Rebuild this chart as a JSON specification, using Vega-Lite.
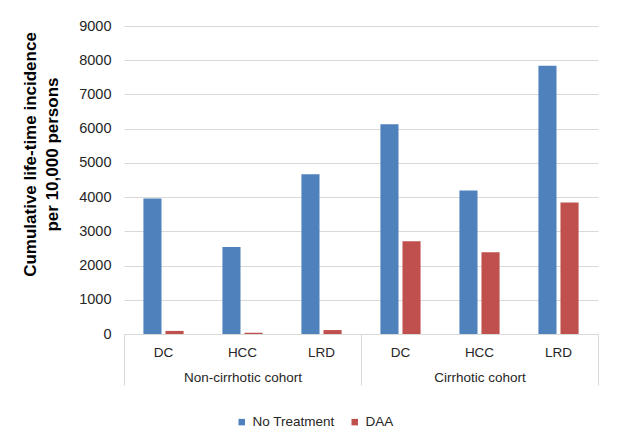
{
  "$schema": "https://vega.github.io/schema/vega-lite/v6.json",
  "width": 474,
  "height": 308,
  "autosize": {"type": "none"},
  "padding": {"left": 124, "top": 26, "right": 27, "bottom": 114},
  "background": "white",
  "config": {
    "view": {"stroke": null},
    "font": "Liberation Sans",
    "axis": {"labelFont": "Liberation Sans", "titleFont": "Liberation Sans", "labelColor": "#262626", "labelFontSize": 13.5},
    "axisY": {"titleLineHeight": 22},
    "legend": {"labelFont": "Liberation Sans", "labelFontSize": 13.5, "labelColor": "#262626"}
  },
  "layer": [
    {
      "data": {
        "values": [
          {"key": "NC|DC", "series": "No Treatment", "value": 3960},
          {"key": "NC|DC", "series": "DAA", "value": 90},
          {"key": "NC|HCC", "series": "No Treatment", "value": 2540},
          {"key": "NC|HCC", "series": "DAA", "value": 40},
          {"key": "NC|LRD", "series": "No Treatment", "value": 4670},
          {"key": "NC|LRD", "series": "DAA", "value": 115},
          {"key": "C|DC", "series": "No Treatment", "value": 6130},
          {"key": "C|DC", "series": "DAA", "value": 2710},
          {"key": "C|HCC", "series": "No Treatment", "value": 4190},
          {"key": "C|HCC", "series": "DAA", "value": 2390},
          {"key": "C|LRD", "series": "No Treatment", "value": 7840},
          {"key": "C|LRD", "series": "DAA", "value": 3840}
        ]
      },
      "mark": {"type": "bar"},
      "encoding": {
        "x": {
          "field": "key", "type": "nominal", "sort": null,
          "scale": {"paddingInner": 0, "paddingOuter": 0},
          "axis": {
            "title": null, "ticks": false, "labelAngle": 0,
            "labelExpr": "split(datum.label, '|')[1]",
            "labelPadding": 11, "domainColor": "#d9d9d9", "domainWidth": 1
          }
        },
        "xOffset": {
          "field": "series", "type": "nominal", "sort": ["No Treatment", "DAA"],
          "scale": {"paddingInner": 0.18, "paddingOuter": 0.88}
        },
        "y": {
          "field": "value", "type": "quantitative",
          "scale": {"domain": [0, 9000], "nice": false},
          "axis": {
            "values": [0, 1000, 2000, 3000, 4000, 5000, 6000, 7000, 8000, 9000],
            "format": "d", "labelFontSize": 14.5,
            "domain": false, "ticks": false, "labelPadding": 13,
            "gridColor": "#d9d9d9", "gridWidth": 1,
            "title": ["Cumulative life-time incidence", "per 10,000 persons"],
            "titleFontSize": 17, "titleFontWeight": "bold", "titleColor": "#000000",
            "titleLineHeight": 22,
            "titleX": -85, "titleY": 128, "titleAlign": "center", "titleBaseline": "bottom", "titleAngle": -90
          }
        },
        "color": {
          "field": "series", "type": "nominal", "sort": ["No Treatment", "DAA"],
          "scale": {"domain": ["No Treatment", "DAA"], "range": ["#4F81BD", "#C0504D"]},
          "legend": {
            "title": null, "orient": "none", "direction": "horizontal",
            "legendX": 111, "legendY": 389,
            "symbolType": "square", "symbolSize": 42, "symbolStrokeWidth": 0,
            "labelOffset": 4, "columnPadding": 13
          }
        }
      }
    },
    {
      "data": {
        "values": [
          {"cohort": "Non-cirrhotic cohort"},
          {"cohort": "Cirrhotic cohort"}
        ]
      },
      "mark": {"type": "point", "opacity": 0},
      "encoding": {
        "x": {
          "field": "cohort", "type": "nominal", "sort": null,
          "scale": {"paddingInner": 0, "paddingOuter": 0},
          "axis": {
            "orient": "bottom", "title": null, "domain": false, "labelAngle": 0,
            "tickBand": "extent", "tickSize": 51, "tickColor": "#d9d9d9", "tickWidth": 1,
            "labelPadding": -15
          }
        }
      }
    }
  ],
  "resolve": {"scale": {"x": "independent"}, "axis": {"x": "independent"}}
}
